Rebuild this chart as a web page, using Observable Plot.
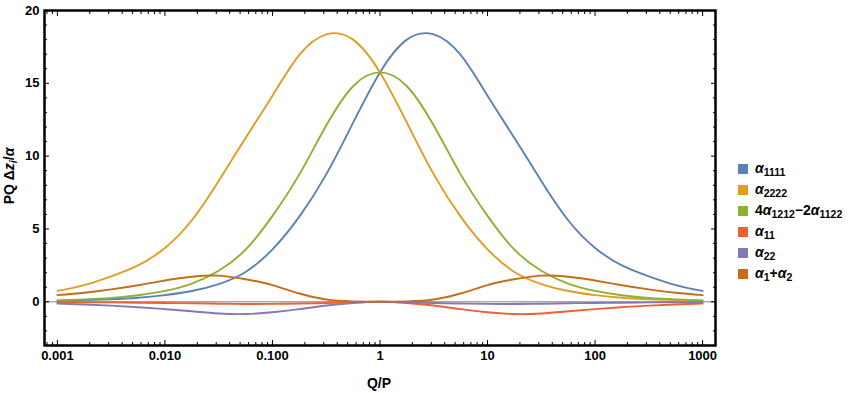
<!DOCTYPE html>
<html>
<head>
<meta charset="utf-8">
<script src="https://cdn.jsdelivr.net/npm/d3@7"></script>
<script src="https://cdn.jsdelivr.net/npm/@observablehq/plot@0.6"></script>
<style>
  body { margin: 0; background: #fff; }
  #wrap { position: relative; width: 861px; height: 393px; font-family: "Liberation Sans", Arial, sans-serif; font-weight: bold; color: #000; }
  #ylabel { position: absolute; left: 10px; top: 176px; transform: translate(-50%, -50%) rotate(-90deg); font-size: 14px; white-space: nowrap; }
  #xlabel { position: absolute; left: 379px; top: 383px; transform: translate(-50%, -50%); font-size: 14px; }
  #legend { position: absolute; left: 738px; top: 158px; font-size: 14px; }
  .row { display: flex; align-items: center; height: 21px; }
  .sw { width: 10px; height: 10px; margin-right: 7px; flex: none; }
  sub { font-size: 10.5px; vertical-align: -3px; }
  i { font-style: italic; }
</style>
</head>
<body>
<div id="wrap">
  <div id="chart"></div>
  <div id="ylabel">PQ Δ<i>z</i><sub><i>i</i></sub>/<i>α</i></div>
  <div id="xlabel">Q/P</div>
  <div id="legend"></div>
</div>
<script>
// Sample points along Q/P (quarter-decade steps)
const qValues = [0.001, 0.001778, 0.003162, 0.005623, 0.01, 0.01778, 0.03162, 0.05623, 0.1, 0.1778, 0.3162, 0.5623, 1, 1.778, 3.162, 5.623, 10, 17.78, 31.62, 56.23, 100, 177.8, 316.2, 562.3, 1000];

const alpha1111 = [0.07, 0.12, 0.18, 0.28, 0.46, 0.74, 1.22, 2.05, 3.6, 5.85, 8.75, 12.3, 15.75, 18.0, 18.36, 16.95, 14.15, 11.25, 8.3, 5.6, 3.7, 2.5, 1.75, 1.15, 0.75];
const alpha2222 = [0.75, 1.15, 1.75, 2.5, 3.7, 5.6, 8.3, 11.25, 14.15, 16.95, 18.36, 18.0, 15.75, 12.3, 8.75, 5.85, 3.6, 2.05, 1.22, 0.74, 0.46, 0.28, 0.18, 0.12, 0.07];
const alphaMix = [0.1, 0.17, 0.27, 0.45, 0.75, 1.25, 2.13, 3.58, 5.9, 8.75, 12.1, 14.8, 15.75, 14.8, 12.1, 8.75, 5.9, 3.58, 2.13, 1.25, 0.75, 0.45, 0.27, 0.17, 0.1];
const alpha11 = [-0.02, -0.03, -0.04, -0.06, -0.08, -0.1, -0.13, -0.15, -0.14, -0.12, -0.08, -0.04, 0, -0.08, -0.25, -0.5, -0.72, -0.84, -0.8, -0.65, -0.5, -0.37, -0.26, -0.18, -0.12];
const alpha22 = [-0.12, -0.18, -0.26, -0.37, -0.5, -0.65, -0.8, -0.84, -0.72, -0.5, -0.25, -0.08, 0, -0.04, -0.08, -0.12, -0.14, -0.15, -0.13, -0.1, -0.08, -0.06, -0.04, -0.03, -0.02];
const alphaSum = [0.46, 0.62, 0.85, 1.14, 1.46, 1.72, 1.8, 1.55, 1.15, 0.57, 0.16, 0.03, 0, 0.03, 0.16, 0.57, 1.15, 1.55, 1.8, 1.72, 1.46, 1.14, 0.85, 0.62, 0.46];

const seriesKeys = ["a1111", "a2222", "mix", "a11", "a22", "sum"];
const seriesColors = ["#5E81B5", "#E19C24", "#8FB032", "#EB6235", "#8778B3", "#C56E1A"];
const seriesLabels = [
  "<i>α</i><sub>1111</sub>",
  "<i>α</i><sub>2222</sub>",
  "4<i>α</i><sub>1212</sub>−2<i>α</i><sub>1122</sub>",
  "<i>α</i><sub>11</sub>",
  "<i>α</i><sub>22</sub>",
  "<i>α</i><sub>1</sub>+<i>α</i><sub>2</sub>"
];
const seriesValues = [alpha1111, alpha2222, alphaMix, alpha11, alpha22, alphaSum];

const xMajor = [0.001, 0.01, 0.1, 1, 10, 100, 1000];
const xLabels = ["0.001", "0.010", "0.100", "1", "10", "100", "1000"];
const yMajor = [0, 5, 10, 15, 20];
const yLabels = ["0", "5", "10", "15", "20"];

const xDomain = [Math.pow(10, -3.12), Math.pow(10, 3.12)];
const yDomain = [-3, 20];

const xMinor = [];
for (let e = -4; e <= 3; e++) for (let m = 2; m <= 9; m++) {
  const v = m * Math.pow(10, e);
  if (v >= xDomain[0] && v <= xDomain[1]) xMinor.push(v);
}
const yMinor = d3.range(-3, 21).filter(v => v % 5 !== 0);

const rows = [];
seriesKeys.forEach((k, i) => seriesValues[i].forEach((v, j) => rows.push({q: qValues[j], v, s: k})));

const xFmt = d => xLabels[xMajor.indexOf(d)];
const yFmt = d => yLabels[yMajor.indexOf(d)];
const blank = () => "";

const chart = Plot.plot({
  width: 861,
  height: 393,
  marginLeft: 44,
  marginRight: 146,
  marginTop: 10,
  marginBottom: 48,
  style: {fontFamily: "Liberation Sans, Arial, sans-serif", fontSize: "13px", fontWeight: "bold", color: "#000", background: "transparent"},
  x: {type: "log", domain: xDomain},
  y: {domain: yDomain},
  color: {domain: seriesKeys, range: seriesColors},
  marks: [
    Plot.ruleY([0], {stroke: "#808080", strokeWidth: 1}),
    Plot.line(rows, {x: "q", y: "v", z: "s", stroke: "s", strokeWidth: 1.9, curve: "natural"}),
    Plot.axisX({anchor: "bottom", ticks: xMajor, tickSize: 0, tickPadding: 5, tickFormat: xFmt, label: null}),
    Plot.axisX({anchor: "bottom", ticks: xMajor, tickSize: -5, tickFormat: blank, label: null}),
    Plot.axisX({anchor: "bottom", ticks: xMinor, tickSize: -3, tickFormat: blank, label: null}),
    Plot.axisX({anchor: "top", ticks: xMajor, tickSize: -5, tickFormat: blank, label: null}),
    Plot.axisX({anchor: "top", ticks: xMinor, tickSize: -3, tickFormat: blank, label: null}),
    Plot.axisY({anchor: "left", ticks: yMajor, tickSize: 0, tickPadding: 5, tickFormat: yFmt, label: null}),
    Plot.axisY({anchor: "left", ticks: yMajor, tickSize: -5, tickFormat: blank, label: null}),
    Plot.axisY({anchor: "left", ticks: yMinor, tickSize: -3, tickFormat: blank, label: null}),
    Plot.axisY({anchor: "right", ticks: yMajor, tickSize: -5, tickFormat: blank, label: null}),
    Plot.axisY({anchor: "right", ticks: yMinor, tickSize: -3, tickFormat: blank, label: null}),
    Plot.frame({stroke: "#000", strokeWidth: 2.5})
  ]
});
document.getElementById("chart").appendChild(chart);

const legend = document.getElementById("legend");
seriesKeys.forEach((k, i) => {
  const row = document.createElement("div");
  row.className = "row";
  row.innerHTML = `<span class="sw" style="background:${seriesColors[i]}"></span><span>${seriesLabels[i]}</span>`;
  legend.appendChild(row);
});
</script>
</body>
</html>
